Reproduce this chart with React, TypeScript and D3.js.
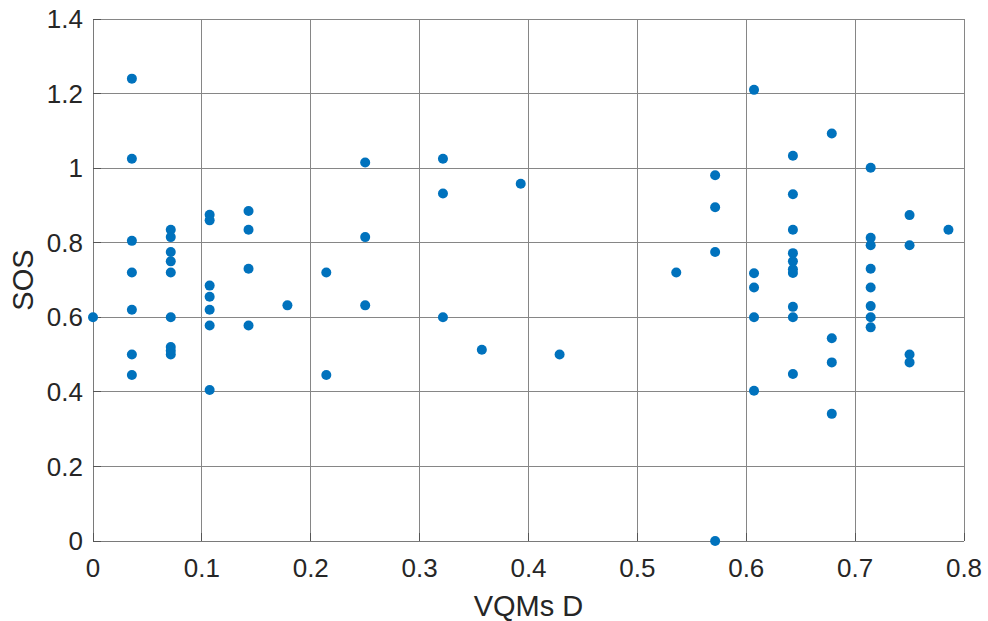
import React from "react";
import * as d3 from "d3";

const xTicks = [0, 0.1, 0.2, 0.3, 0.4, 0.5, 0.6, 0.7, 0.8];
const yTicks = [0, 0.2, 0.4, 0.6, 0.8, 1, 1.2, 1.4];
const xTickLabels = ["0", "0.1", "0.2", "0.3", "0.4", "0.5", "0.6", "0.7", "0.8"];
const yTickLabels = ["0", "0.2", "0.4", "0.6", "0.8", "1", "1.2", "1.4"];

// x positions (VQMs D) as numerators over 28
const xNum = [
  0,
  1, 1, 1, 1, 1, 1, 1,
  2, 2, 2, 2, 2, 2, 2, 2, 2,
  3, 3, 3, 3, 3, 3, 3,
  4, 4, 4, 4,
  5,
  6, 6,
  7, 7, 7,
  9, 9, 9,
  10,
  11,
  12,
  15,
  16, 16, 16, 16,
  17, 17, 17, 17, 17,
  18, 18, 18, 18, 18, 18, 18, 18, 18, 18,
  19, 19, 19, 19,
  20, 20, 20, 20, 20, 20, 20, 20,
  21, 21, 21, 21,
  22,
];
const sosValues = [
  0.6,
  1.24, 1.025, 0.805, 0.72, 0.62, 0.5, 0.445,
  0.835, 0.815, 0.775, 0.75, 0.72, 0.6, 0.52, 0.51, 0.5,
  0.875, 0.86, 0.685, 0.655, 0.62, 0.578, 0.405,
  0.885, 0.835, 0.73, 0.578,
  0.632,
  0.72, 0.445,
  1.015, 0.815, 0.632,
  1.025, 0.932, 0.6,
  0.513,
  0.958,
  0.5,
  0.72,
  0.981, 0.895, 0.775, 0.0,
  1.21, 0.718, 0.68, 0.6, 0.403,
  1.033, 0.93, 0.835, 0.772, 0.75, 0.729, 0.719, 0.628, 0.6, 0.448,
  1.093, 0.544, 0.479, 0.341,
  1.001, 0.813, 0.793, 0.73, 0.68, 0.63, 0.6, 0.573,
  0.874, 0.793, 0.5, 0.479,
  0.835,
];

const W = 988;
const H = 621;
const M = { left: 93, right: 964, top: 19, bottom: 541 };
const font = "'Liberation Sans', Arial, Helvetica, sans-serif";

export default function App() {
  const x = d3.scaleLinear().domain([0, 0.8]).range([M.left, M.right]);
  const y = d3.scaleLinear().domain([0, 1.4]).range([M.bottom, M.top]);
  const points = xNum.map((n, i) => ({ x: n / 28, y: sosValues[i] }));
  const grid = "#868686";
  return (
    <svg
      width={W}
      height={H}
      style={{ position: "absolute", left: 0, top: 0, background: "#fff" }}
      fontFamily={font}
    >
      <rect x={0} y={0} width={W} height={H} fill="#fff" />
      {xTicks.map((t) => (
        <line key={"gx" + t} x1={x(t)} x2={x(t)} y1={M.top} y2={M.bottom} stroke={grid} strokeWidth={1} shapeRendering="crispEdges" />
      ))}
      {yTicks.map((t) => (
        <line key={"gy" + t} x1={M.left} x2={M.right} y1={y(t)} y2={y(t)} stroke={grid} strokeWidth={1} shapeRendering="crispEdges" />
      ))}
      {/* axes */}
      <line x1={M.left} x2={M.left} y1={M.top} y2={M.bottom} stroke="#7a7a7a" strokeWidth={1} shapeRendering="crispEdges" />
      <line x1={M.left} x2={M.right} y1={M.bottom} y2={M.bottom} stroke="#7a7a7a" strokeWidth={1} shapeRendering="crispEdges" />
      {yTicks.map((t) => (
        <line key={"ty" + t} x1={M.left} x2={M.left + 8} y1={y(t)} y2={y(t)} stroke="#555" strokeWidth={1} shapeRendering="crispEdges" />
      ))}
      {xTicks.map((t) => (
        <line key={"tx" + t} x1={x(t)} x2={x(t)} y1={M.bottom} y2={M.bottom - 8} stroke="#555" strokeWidth={1} shapeRendering="crispEdges" />
      ))}
      {xTicks.map((t, i) => (
        <text key={"lx" + t} x={x(t)} y={577} textAnchor="middle" fontSize={26} fill="#262626">
          {xTickLabels[i]}
        </text>
      ))}
      {yTicks.map((t, i) => (
        <text key={"ly" + t} x={83} y={y(t)} dy="0.35em" textAnchor="end" fontSize={26} fill="#262626">
          {yTickLabels[i]}
        </text>
      ))}
      <text x={(M.left + M.right) / 2} y={616} textAnchor="middle" fontSize={29} fill="#262626">
        VQMs D
      </text>
      <text
        transform={`translate(33, ${(M.top + M.bottom) / 2}) rotate(-90)`}
        textAnchor="middle"
        fontSize={29}
        fill="#262626"
      >
        SOS
      </text>
      {points.map((p, i) => (
        <circle key={i} cx={x(p.x)} cy={y(p.y)} r={5} fill="#0072BD" />
      ))}
    </svg>
  );
}
